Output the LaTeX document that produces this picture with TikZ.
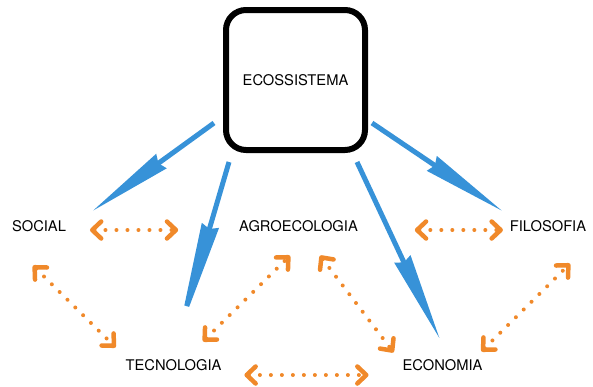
\documentclass[tikz,border=0pt]{standalone}
\usepackage{fontspec}
\setmainfont{TeX Gyre Heros}
\usepackage{xcolor}
\usepackage{tikz}
\usetikzlibrary{arrows.meta}
\usetikzlibrary{positioning, calc}

\definecolor{azul}{RGB}{55,146,216}
\definecolor{laranja}{RGB}{240,137,42}

\begin{document}
\begin{tikzpicture}[x=1pt, y=-1pt,
        font=\fontsize{14.7pt}{17pt}\selectfont,
        rotulo/.style={inner sep=0pt, outer sep=0pt},
        caixa/.style={draw=black, line width=6pt, rounded corners=20pt, minimum width=139pt, minimum height=140pt},
        fluxo/.style={azul, line width=5pt, -{Stealth[length=#1, width=17pt, inset=3pt]}},
        fluxo/.default=85pt,
        ponta/.tip={Straight Barb[length=9pt, width=17pt, line width=4.5pt, round]},
        troca/.style={laranja, line width=4pt, line cap=round, dash pattern=on 0pt off 11pt, ponta-ponta}]

       \useasboundingbox (0,0) rectangle (593,386);

       % caixa central
       \node[caixa] (eco) at (295.5,80) {ECOSSISTEMA};

       % rotulos
       \node[rotulo] (social) at (39,226) {SOCIAL};
       \node[rotulo] (agro) at (298.5,226) {AGROECOLOGIA};
       \node[rotulo] (filo) at (548,226) {FILOSOFIA};
       \node[rotulo] (tecno) at (173.5,365) {TECNOLOGIA};
       \node[rotulo] (econ) at (442.5,365) {ECONOMIA};

       % setas azuis
       \draw[fluxo] ([shift={(-9,43)}]eco.west) -- ([shift={(26,-9)}]social.north east);
       \draw[fluxo=118pt] ([shift={(-66.5,9)}]eco.south) -- ([shift={(3.5,-20)}]tecno.north);
       \draw[fluxo=88pt] ([shift={(61.5,9)}]eco.south) -- ([shift={(-2.5,-20)}]econ.north);
       \draw[fluxo] ([shift={(4,43)}]eco.east) -- ([shift={(-7,-9)}]filo.north west);

       % setas laranja
       \draw[troca] ([shift={(24,4)}]social.east) -- ([shift={(-61,4)}]agro.west);
       \draw[troca] ([shift={(57,4)}]agro.east) -- ([shift={(-7,4)}]filo.west);
       \draw[troca] ([shift={(-6,34)}]social.south) -- ([shift={(-10,-12)}]tecno.north west);
       \draw[troca] ([shift={(29.5,-18)}]tecno.north) -- ([shift={(-8.5,24)}]agro.south);
       \draw[troca] ([shift={(21.5,24)}]agro.south) -- ([shift={(-9,-7)}]econ.north west);
       \draw[troca] ([shift={(-1,-8)}]econ.north east) -- ([shift={(22,32)}]filo.south);
       \draw[troca] ([shift={(23,10)}]tecno.east) -- ([shift={(-34,10)}]econ.west);

    \end{tikzpicture}
\end{document}
